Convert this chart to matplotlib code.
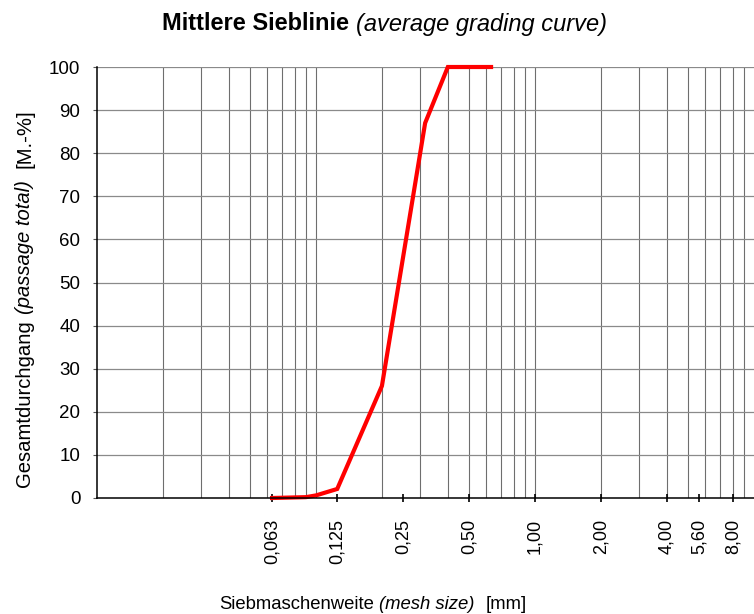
import numpy as np
import matplotlib
matplotlib.use("Agg")
import matplotlib.pyplot as plt
from matplotlib.ticker import FixedLocator, FixedFormatter, NullLocator

plt.rcParams['font.family'] = ['Liberation Sans', 'DejaVu Sans']

# Siebdurchgang (mm, M.-%)
sieb_mm = [0.063, 0.09, 0.1, 0.125, 0.2, 0.315, 0.4, 0.5, 0.63]
durchgang = [0.0, 0.2, 0.6, 2.1, 26.0, 87.0, 100.0, 100.0, 100.0]

tick_werte = [0.063, 0.125, 0.25, 0.5, 1.0, 2.0, 4.0, 5.6, 8.0]
tick_texte = ["0,063", "0,125", "0,25", "0,50", "1,00", "2,00", "4,00", "5,60", "8,00"]
y_werte = list(range(0, 101, 10))

W, H = 754, 614
fig = plt.figure(figsize=(W / 100, H / 100), dpi=100)
ax = fig.add_axes([97 / W, 1 - 498 / H, 657 / W, 431 / H])

ax.set_xscale('log')
ax.set_xlim(0.01, 10)
ax.set_ylim(0, 100)

# Gitter
for dek in [0.01, 0.1, 1.0]:
    for k in range(1, 10):
        if dek * k > 0.01:
            ax.axvline(dek * k, color='#6e6e6e', lw=0.8, zorder=1)
for y in y_werte[1:]:
    ax.axhline(y, color='#8a8a8a', lw=0.9, zorder=1)

ax.plot(sieb_mm, durchgang, color='#ff0000', lw=3.0, zorder=3, clip_on=False,
        solid_joinstyle='miter')

ax.xaxis.set_major_locator(FixedLocator(tick_werte))
ax.xaxis.set_major_formatter(FixedFormatter(tick_texte))
ax.xaxis.set_minor_locator(NullLocator())
ax.set_yticks(y_werte)

ax.tick_params(axis='x', direction='inout', length=6, width=1.2, pad=12,
               labelsize=13, labelrotation=90, color='black')
ax.tick_params(axis='y', direction='out', length=3, width=0.8, pad=9,
               labelsize=13.5, color='#555555')

for s in ['top', 'right']:
    ax.spines[s].set_visible(False)
for s in ['left', 'bottom']:
    ax.spines[s].set_linewidth(1.1)
    ax.spines[s].set_zorder(4)


def gemischter_text(cx, cy, teile, size, vertikal=False):
    # Textstuecke mit verschiedenen Schnitten aneinanderreihen, Mitte bei (cx, cy) in Pixel
    r = fig.canvas.get_renderer()
    objs = []
    laengen = []
    for txt, stil, luecke in teile:
        t = fig.text(0, 0, txt, fontsize=size, fontweight=stil[0], fontstyle=stil[1],
                     rotation=90 if vertikal else 0, rotation_mode='anchor',
                     ha='left', va='baseline', transform=None)
        bb = t.get_window_extent(r)
        laengen.append((bb.height if vertikal else bb.width) + luecke)
        objs.append(t)
    gesamt = sum(laengen) - teile[-1][2]
    pos = -gesamt / 2
    for t, l in zip(objs, laengen):
        if vertikal:
            t.set_position((cx + size * 0.36, H - cy + pos))
        else:
            t.set_position((cx + pos, H - cy - size * 0.5))
        pos += l


N = ('normal', 'normal')
B = ('bold', 'normal')
I = ('normal', 'italic')

gemischter_text(385, 22, [("Mittlere Sieblinie", B, 7), ("(average grading curve)", I, 0)], 17)
gemischter_text(25, 298, [("Gesamtdurchgang", N, 6), ("(passage total)", I, 12), ("[M.-%]", N, 0)],
                14.6, vertikal=True)
gemischter_text(373, 602, [("Siebmaschenweite", N, 5), ("(mesh size)", I, 11), ("[mm]", N, 0)], 13.3)

fig.savefig("out.png", dpi=100)
